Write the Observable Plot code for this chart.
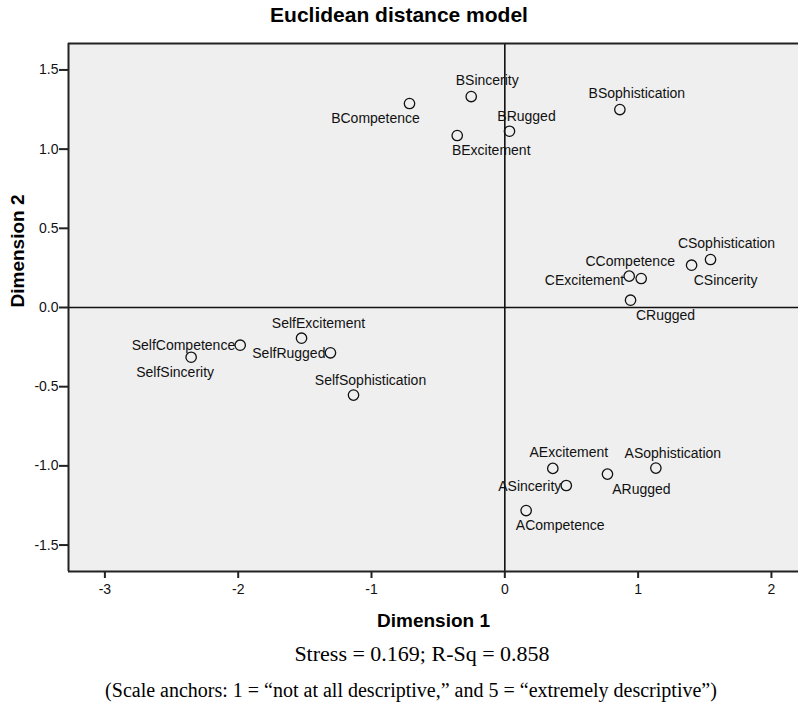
<!DOCTYPE html>
<html>
<head>
<meta charset="utf-8">
<script src="https://cdn.jsdelivr.net/npm/d3@7"></script>
<script src="https://cdn.jsdelivr.net/npm/@observablehq/plot@0.6"></script>
<style>
  html, body { margin: 0; padding: 0; background: #fff; overflow: hidden; }
  #title { width: 798px; height: 31px; padding-top: 3px; line-height: 31px; text-align: center;
           font: bold 21px "Liberation Sans", Arial, sans-serif; color: #000; padding-right: 4px; box-sizing: content-box; }
  .note { width: 798px; text-align: center; font-family: "Liberation Serif", "Times New Roman", serif;
          color: #000; box-sizing: border-box; }
  #stress { height: 38px; line-height: 38px; padding-left: 46px; font-size: 22px; }
  #anchors { height: 34px; line-height: 34px; padding-left: 24px; font-size: 20px; }
</style>
</head>
<body>
<div id="title">Euclidean distance model</div>
<div id="chart"></div>
<div id="stress" class="note">Stress = 0.169; R-Sq = 0.858</div>
<div id="anchors" class="note">(Scale anchors: 1 = “not at all descriptive,” and 5 = “extremely descriptive”)</div>
<script>
// ---- data ----
const names = [
  "BCompetence", "BSincerity", "BExcitement", "BRugged", "BSophistication",
  "SelfCompetence", "SelfSincerity", "SelfExcitement", "SelfRugged", "SelfSophistication",
  "CSophistication", "CSincerity", "CCompetence", "CExcitement", "CRugged",
  "AExcitement", "ASophistication", "ARugged", "ASincerity", "ACompetence"
];
const dim1 = [
  -0.715, -0.252, -0.357, 0.035, 0.863,
  -1.985, -2.353, -1.525, -1.308, -1.135,
  1.543, 1.401, 1.023, 0.933, 0.943,
  0.360, 1.133, 0.770, 0.461, 0.160
];
const dim2 = [
  1.288, 1.332, 1.086, 1.113, 1.250,
  -0.238, -0.314, -0.194, -0.286, -0.553,
  0.303, 0.267, 0.183, 0.198, 0.046,
  -1.016, -1.014, -1.052, -1.124, -1.282
];
const xTicks = [-3, -2, -1, 0, 1, 2];
const yTicks = [-1.5, -1.0, -0.5, 0.0, 0.5, 1.0, 1.5];

// ---- layout: label placement relative to each point (pixels) ----
const labelPlacement = {
  BCompetence: ["middle", -34, 15], BSincerity: ["middle", 16, -16], BExcitement: ["middle", 34, 15],
  BRugged: ["middle", 17, -15], BSophistication: ["middle", 17, -16],
  SelfCompetence: ["end", -5, 0], SelfSincerity: ["middle", -16, 15], SelfExcitement: ["middle", 17, -15],
  SelfRugged: ["end", -5, 1], SelfSophistication: ["middle", 17, -15],
  CSophistication: ["middle", 16, -16], CSincerity: ["middle", 34, 15], CCompetence: ["middle", -11, -17],
  CExcitement: ["end", -5, 4], CRugged: ["middle", 35, 15],
  AExcitement: ["middle", 16, -16], ASophistication: ["middle", 17, -15], ARugged: ["middle", 34, 15],
  ASincerity: ["end", -5, 1], ACompetence: ["middle", 34, 15]
};

const data = names.map((n, i) => ({name: n, d1: dim1[i], d2: dim2[i]}));
const xDomain = [-3.273, 2.203];
const yDomain = [-1.667, 1.667];
const ink = "#222";

const labelMarks = data.map(d => {
  const [anchor, dx, dy] = labelPlacement[d.name];
  return Plot.text([d], {x: "d1", y: "d2", text: "name", textAnchor: anchor, dx, dy,
    fontSize: 14, fill: "#111"});
});

const chart = Plot.plot({
  width: 798,
  height: 601,
  marginTop: 9,
  marginLeft: 68,
  marginRight: 0,
  marginBottom: 64,
  style: {fontFamily: "'Liberation Sans', Arial, sans-serif", fontSize: "14px", color: "#111", background: "#fff", overflow: "visible"},
  x: {domain: xDomain, ticks: xTicks},
  y: {domain: yDomain, ticks: yTicks},
  marks: [
    Plot.frame({fill: "#efefef", stroke: "none"}),
    Plot.ruleX([0], {stroke: "#111", strokeWidth: 1.6}),
    Plot.ruleY([0], {stroke: "#111", strokeWidth: 1.6}),
    Plot.ruleX([xDomain[0]], {stroke: ink, strokeWidth: 2}),
    Plot.ruleY(yDomain, {stroke: ink, strokeWidth: 2}),
    Plot.axisX({ticks: xTicks, tickSize: 7, tickPadding: 6, tickFormat: d => String(d),
      strokeWidth: 2, stroke: ink, fontSize: 14, fill: "#111", label: null}),
    Plot.axisY({ticks: yTicks, tickSize: 9, tickPadding: 1, tickFormat: d => d.toFixed(1),
      strokeWidth: 2, stroke: ink, fontSize: 14, fill: "#111", label: null}),
    Plot.text(["Dimension 1"], {frameAnchor: "bottom", dy: 55, fontWeight: "bold", fontSize: 19, fill: "#000"}),
    Plot.text(["Dimension 2"], {frameAnchor: "left", dx: -51, rotate: -90, fontWeight: "bold", fontSize: 19, fill: "#000"}),
    Plot.dot(data, {x: "d1", y: "d2", r: 5.2, stroke: "#111", strokeWidth: 1.3, fill: "none"}),
    ...labelMarks
  ]
});
document.getElementById("chart").appendChild(chart);
</script>
</body>
</html>
